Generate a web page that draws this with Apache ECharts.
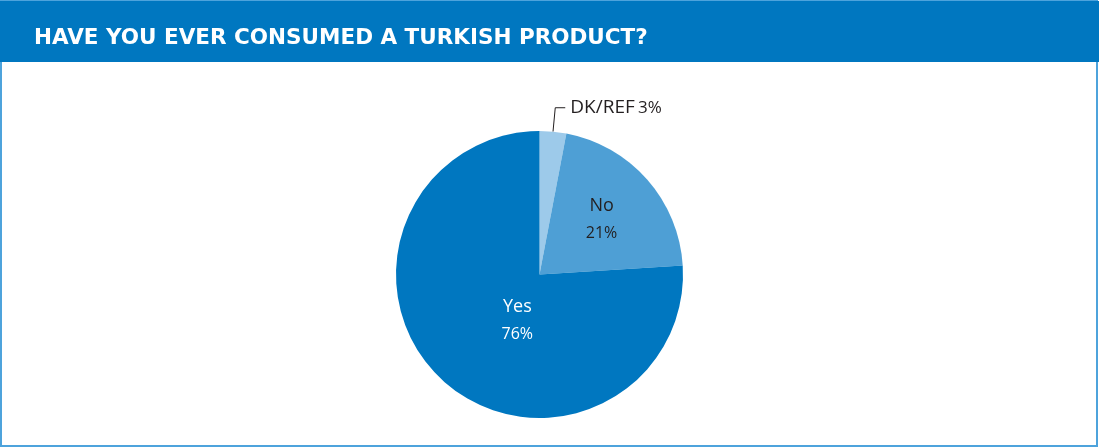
<!DOCTYPE html>
<html>
<head>
<meta charset="utf-8">
<script src="https://cdn.jsdelivr.net/npm/echarts@6/dist/echarts.min.js"></script>
<style>
  html, body { margin: 0; padding: 0; background: #fff; }
  #chart { width: 1099px; height: 448px; }
</style>
</head>
<body>
<div id="chart"></div>
<script>
// Survey answers and their shares (percent)
const titleText = 'HAVE YOU EVER CONSUMED A TURKISH PRODUCT?';
const categories = ['DK/REF', 'No', 'Yes'];
const shares = [3, 21, 76];

const sliceColors = ['#9dcaea', '#4e9fd5', '#0077c0'];
const labelStyles = [
  { position: 'outside', color: '#231f20', offset: [0, 0], nameSize: 19, pctSize: 17, formatter: '{n|{b}} {p|{d}%}' },
  { position: 'inside', color: '#231f20', offset: [6, -6], nameSize: 18, pctSize: 16, formatter: '{n|{b}}\n{p|{d}%}' },
  { position: 'inside', color: '#ffffff', offset: [29, -9], nameSize: 18, pctSize: 16, formatter: '{n|{b}}\n{p|{d}%}' }
];

const chart = echarts.init(document.getElementById('chart'), null, { renderer: 'canvas' });

const pieData = categories.map((name, i) => ({
  name: name,
  value: shares[i],
  itemStyle: { color: sliceColors[i] },
  label: {
    show: true,
    position: labelStyles[i].position,
    offset: labelStyles[i].offset,
    formatter: labelStyles[i].formatter,
    color: labelStyles[i].color,
    rich: {
      n: { fontSize: labelStyles[i].nameSize, fontFamily: 'Open Sans', color: labelStyles[i].color, lineHeight: 28 },
      p: { fontSize: labelStyles[i].pctSize, fontFamily: 'Open Sans', color: labelStyles[i].color, lineHeight: 26 }
    }
  },
  labelLine: i === 0
    ? { show: true, length: 24, length2: 10, lineStyle: { color: '#231f20', width: 1 } }
    : { show: false }
}));

chart.setOption({
  animation: false,
  backgroundColor: '#ffffff',
  graphic: [
    { type: 'rect', z: 0, shape: { x: 1, y: 1, width: 1096, height: 445 },
      style: { fill: '#ffffff', stroke: '#4da3dc', lineWidth: 2 } },
    { type: 'rect', z: 1, shape: { x: 0, y: 1, width: 1099, height: 61 },
      style: { fill: '#0077c0' } },
    { type: 'text', z: 2, x: 34, y: 38,
      style: { text: titleText, fill: '#ffffff', font: 'bold 21.5px "DejaVu Sans"',
               verticalAlign: 'middle', align: 'left' } }
  ],
  series: [{
    type: 'pie',
    center: [539.5, 274.5],
    radius: 143.5,
    startAngle: 90,
    clockwise: true,
    avoidLabelOverlap: false,
    data: pieData,
    itemStyle: { borderWidth: 0 },
    emphasis: { disabled: true }
  }]
});
</script>
</body>
</html>
